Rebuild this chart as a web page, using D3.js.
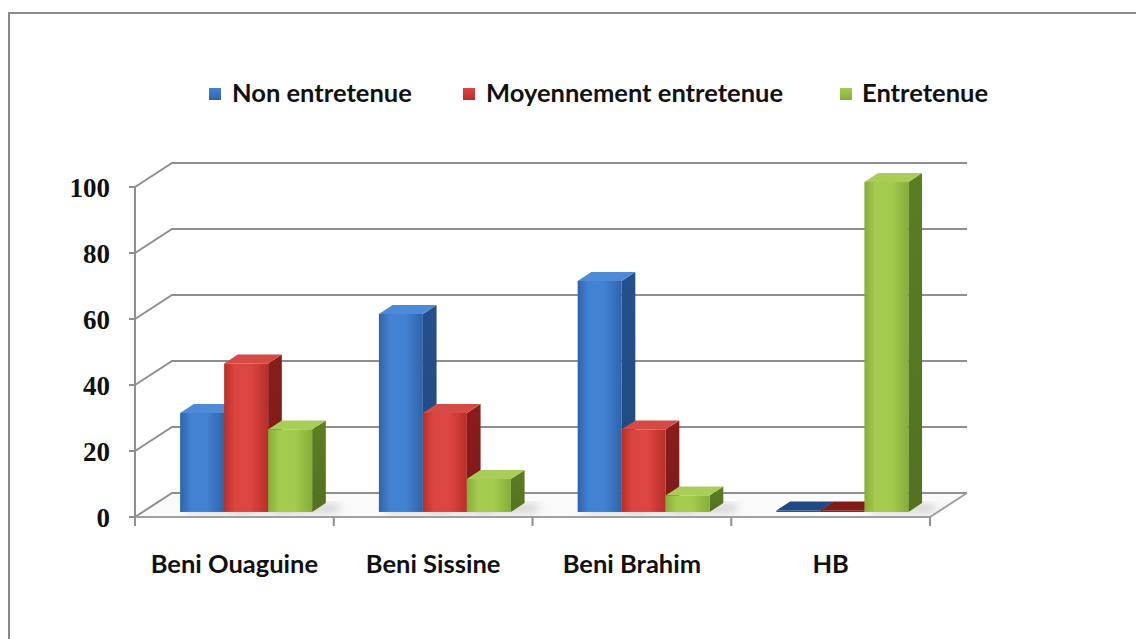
<!DOCTYPE html>
<html>
<head>
<meta charset="utf-8">
<script src="https://cdn.jsdelivr.net/npm/d3@7"></script>
<style>
  html, body { margin: 0; padding: 0; background: #fff; }
  svg { display: block; }
</style>
</head>
<body>
<svg id="chart" width="1136" height="639"></svg>
<script>
// Data
const categories = ["Beni Ouaguine", "Beni Sissine", "Beni Brahim", "HB"];
const series = ["Non entretenue", "Moyennement entretenue", "Entretenue"];
const nonEntretenue = [30, 60, 70, 0];
const moyennementEntretenue = [45, 30, 25, 0];
const entretenue = [25, 10, 5, 100];
const yTicks = [0, 20, 40, 60, 80, 100];

const values = [nonEntretenue, moyennementEntretenue, entretenue];

// Face colours per series: front gradient (light, dark), side, top
const palette = [
  { light: "#4282d3", dark: "#2f63aa", side: "#24508c", top: "#4d8ad8" },
  { light: "#dc4640", dark: "#b92e29", side: "#8a1d1b", top: "#d44b45" },
  { light: "#a5cb4e", dark: "#86ad38", side: "#5c7e22", top: "#a9cd58" }
];

const svg = d3.select("#chart");
const defs = svg.append("defs");

// Plot frame: front plane and oblique depth vector
const x0 = 135, x1 = 930, yBase = 517, yTop = 187;
const depth = { dx: 37, dy: -24 };
const off = d => [depth.dx * d, depth.dy * d];

const y = d3.scaleLinear().domain([0, 100]).range([yBase, yTop]);
const x = d3.scaleBand().domain(categories).range([x0, x1]);
const bw = x.bandwidth();
const xs = d3.scaleBand().domain(series).range([bw * 0.188, bw * 0.188 + 132]);

// Gradients for bar fronts, sides and legend keys
palette.forEach((p, i) => {
  const g = defs.append("linearGradient").attr("id", "front" + i)
    .attr("x1", "0%").attr("x2", "100%").attr("y1", "0%").attr("y2", "0%");
  g.append("stop").attr("offset", "0%").attr("stop-color", p.dark);
  g.append("stop").attr("offset", "25%").attr("stop-color", p.light);
  g.append("stop").attr("offset", "60%").attr("stop-color", p.light);
  g.append("stop").attr("offset", "100%").attr("stop-color", p.dark);
  const s = defs.append("linearGradient").attr("id", "side" + i)
    .attr("x1", "0%").attr("x2", "0%").attr("y1", "0%").attr("y2", "100%");
  s.append("stop").attr("offset", "0%").attr("stop-color", p.side);
  s.append("stop").attr("offset", "100%").attr("stop-color", d3.color(p.side).darker(0.3));
  const lg = defs.append("linearGradient").attr("id", "leg" + i)
    .attr("x1", "0%").attr("x2", "0%").attr("y1", "0%").attr("y2", "100%");
  lg.append("stop").attr("offset", "0%").attr("stop-color", p.light);
  lg.append("stop").attr("offset", "100%").attr("stop-color", p.dark);
});

const blur = defs.append("filter").attr("id", "soft")
  .attr("x", "-50%").attr("y", "-50%").attr("width", "200%").attr("height", "200%");
blur.append("feGaussianBlur").attr("stdDeviation", 4);

// Outer frame
svg.append("rect")
  .attr("x", 9).attr("y", 13).attr("width", 1140).attr("height", 640)
  .attr("fill", "none").attr("stroke", "#8a8a8a").attr("stroke-width", 2);

const poly = pts => pts.map(p => p.join(",")).join(" ");

// Floor
const [fdx, fdy] = off(1);
svg.append("polygon")
  .attr("points", poly([[x0, yBase], [x1, yBase], [x1 + fdx, yBase + fdy], [x0 + fdx, yBase + fdy]]))
  .attr("fill", "#fafafa");

// Back wall gridlines with left side-wall diagonals
const grid = svg.append("g").attr("stroke", "#8f8f8f").attr("stroke-width", 2).attr("fill", "none");
yTicks.forEach(t => {
  grid.append("polyline")
    .attr("points", poly([[x0, y(t)], [x0 + fdx, y(t) + fdy], [x1 + fdx, y(t) + fdy]]));
});
// Floor edges
grid.append("polyline")
  .attr("points", poly([[x0, yBase], [x1, yBase], [x1 + fdx, yBase + fdy]]))
  .attr("stroke", "#a0a0a0");

// Value axis
const axisG = svg.append("g").attr("stroke", "#8f8f8f").attr("stroke-width", 2);
axisG.append("line").attr("x1", x0).attr("x2", x0).attr("y1", y(100)).attr("y2", yBase + 9);
yTicks.forEach(t => {
  axisG.append("line").attr("x1", x0 - 6).attr("x2", x0).attr("y1", y(t)).attr("y2", y(t));
});
// Category ticks at band boundaries
categories.map(c => x(c)).concat([x1]).forEach(xx => {
  axisG.append("line").attr("x1", xx).attr("x2", xx).attr("y1", yBase).attr("y2", yBase + 9);
});

// Tick labels
svg.append("g").selectAll("text").data(yTicks).join("text")
  .attr("x", 110).attr("y", d => y(d))
  .attr("dy", "0.36em")
  .attr("text-anchor", "end")
  .attr("font-family", "Liberation Serif, serif")
  .attr("font-weight", "bold")
  .attr("font-size", 27)
  .attr("fill", "#111")
  .text(d => d);

svg.append("g").selectAll("text").data(categories).join("text")
  .attr("x", d => x(d) + bw / 2)
  .attr("y", 573)
  .attr("text-anchor", "middle")
  .attr("font-family", "Lato, sans-serif")
  .attr("font-weight", "bold")
  .attr("font-size", 25.5)
  .attr("fill", "#111")
  .text(d => d);

// Bars (oblique 3D)
const d0 = 0.21, d1 = 0.58;
const shadows = svg.append("g").attr("filter", "url(#soft)");
const bars = svg.append("g");

categories.forEach((c, ci) => {
  series.forEach((s, si) => {
    const v = values[si][ci];
    const [ax, ay] = off(d0);
    const [bx, by] = off(d1);
    const left = x(c) + xs(s) + ax;
    const right = left + xs.bandwidth();
    const base = y(0) + ay;
    let top = y(v) + ay;
    if (v === 0) top = base - 1.5;
    const ddx = bx - ax, ddy = by - ay;

    // Soft floor shadow behind the bar
    if (v > 0) {
      shadows.append("polygon")
        .attr("points", poly([[left + 4, base], [right + ddx + 10, base], [right + ddx + 16, base + ddy + 2], [left + ddx, base + ddy + 2]]))
        .attr("fill", "#9a9a9a").attr("opacity", 0.5);
    }

    const p = palette[si];
    // Side face
    bars.append("polygon")
      .attr("points", poly([[right, top], [right + ddx, top + ddy], [right + ddx, base + ddy], [right, base]]))
      .attr("fill", v === 0 ? p.side : `url(#side${si})`);
    // Top face
    bars.append("polygon")
      .attr("points", poly([[left, top], [left + ddx, top + ddy], [right + ddx, top + ddy], [right, top]]))
      .attr("fill", v === 0 ? d3.color(p.side).darker(0.2) : p.top);
    // Front face
    bars.append("rect")
      .attr("x", left).attr("y", top)
      .attr("width", right - left).attr("height", base - top)
      .attr("fill", v === 0 ? p.side : `url(#front${si})`);
  });
});

// Legend
const legendPos = [
  { sx: 209, tx: 232 },
  { sx: 463, tx: 486 },
  { sx: 840, tx: 862 }
];
const legend = svg.append("g");
series.forEach((name, i) => {
  legend.append("rect")
    .attr("x", legendPos[i].sx).attr("y", 88).attr("width", 12).attr("height", 12)
    .attr("fill", `url(#leg${i})`);
  legend.append("text")
    .attr("x", legendPos[i].tx).attr("y", 102)
    .attr("font-family", "Lato, sans-serif")
    .attr("font-weight", "bold")
    .attr("font-size", 25.5)
    .attr("fill", "#111")
    .text(name);
});
</script>
</body>
</html>
